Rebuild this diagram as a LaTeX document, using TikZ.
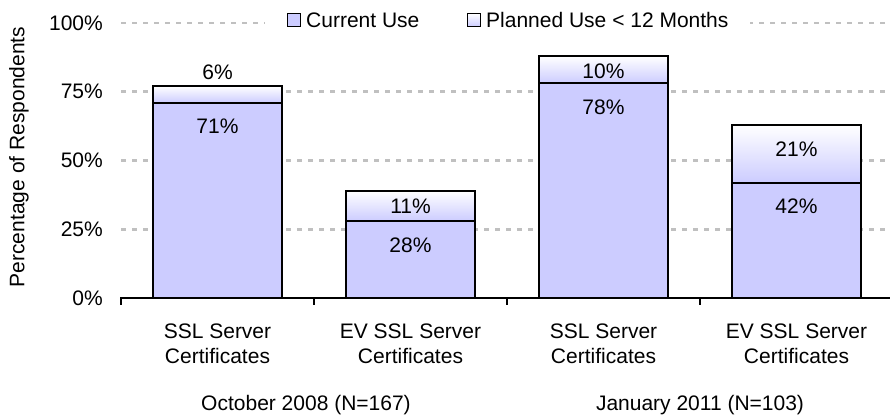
\documentclass[tikz,border=0pt]{standalone}
\usepackage{fontspec}
\setmainfont{Liberation Sans}
\definecolor{barblue}{HTML}{CCCCFF}
\definecolor{gridgray}{HTML}{C0C0C0}
\tikzset{
  grid line/.style={draw=gridgray, line width=2.5pt, dash pattern=on 4.5pt off 6.5pt},
  axis line/.style={draw=black, line width=2pt},
  current seg/.style={fill=barblue, draw=black, line width=2pt},
  planned seg/.style={top color=white, bottom color=barblue, draw=black, line width=2pt},
  lbl/.style={font=\fontsize{21}{24.5}\selectfont, inner sep=0pt},
  ticklbl/.style={lbl, anchor=east},
  catlbl/.style={lbl, align=center, anchor=base},
}
\begin{document}
\begin{tikzpicture}[x=1pt, y=-1pt]
\useasboundingbox (0,0) rectangle (890,417);

% horizontal gridlines
\foreach \gy in {229.25,160.5,91.75,23}
  \draw[grid line] (121,\gy) -- (890,\gy);

% legend (white panel hides the top gridline)
\fill[white] (265,8) rectangle (750,34);
\node[draw=black, line width=1.5pt, fill=barblue, minimum size=13pt, inner sep=0pt] (legcur) at (294,20) {};
\node[lbl, anchor=west] (legcurt) at (306,20) {Current Use};
\node[draw=black, line width=1.5pt, top color=white, bottom color=barblue, minimum size=13pt, inner sep=0pt] (legplan) at (474,20) {};
\node[lbl, anchor=west] (legplant) at (486,20) {Planned Use < 12 Months};

% bars: current use (solid) and planned use (shaded) stacked
\draw[current seg] (153,298) rectangle (282,102.75);
\draw[planned seg] (153,102.75) rectangle (282,86.25);
\draw[current seg] (346,298) rectangle (475,221);
\draw[planned seg] (346,221) rectangle (475,190.75);
\draw[current seg] (539,298) rectangle (668,83.5);
\draw[planned seg] (539,83.5) rectangle (668,56);
\draw[current seg] (732,298) rectangle (861,182.5);
\draw[planned seg] (732,182.5) rectangle (861,124.75);

% value labels
\node[lbl] (v1c) at (217.5,126) {71\%};
\node[lbl] (v1p) at (217.5,72) {6\%};
\node[lbl] (v2c) at (410.5,245) {28\%};
\node[lbl] (v2p) at (410.5,206) {11\%};
\node[lbl] (v3c) at (603.5,107.5) {78\%};
\node[lbl] (v3p) at (603.5,71) {10\%};
\node[lbl] (v4c) at (796.5,206.5) {42\%};
\node[lbl] (v4p) at (796.5,149) {21\%};

% category axis with tick marks
\draw[axis line] (121,298) -- (890,298);
\foreach \tx in {121,314,507,700}
  \draw[axis line] (\tx,297) -- (\tx,305);

% value axis labels
\node[ticklbl] (t0) at (103,298) {0\%};
\node[ticklbl] (t25) at (103,229.25) {25\%};
\node[ticklbl] (t50) at (103,160.5) {50\%};
\node[ticklbl] (t75) at (103,91.75) {75\%};
\node[ticklbl] (t100) at (103,23) {100\%};
\node[lbl, rotate=90] (ytitle) at (19,157) {Percentage of Respondents};

% category labels (anchor base sits on the second line)
\node[catlbl] (c1) at (217.5,363) {SSL Server\\Certificates};
\node[catlbl] (c2) at (410.5,363) {EV SSL Server\\Certificates};
\node[catlbl] (c3) at (603.5,363) {SSL Server\\Certificates};
\node[catlbl] (c4) at (796.5,363) {EV SSL Server\\Certificates};
\node[lbl, anchor=base] (g1) at (306,410) {October 2008 (N=167)};
\node[lbl, anchor=base] (g2) at (700,410) {January 2011 (N=103)};
\end{tikzpicture}
\end{document}
